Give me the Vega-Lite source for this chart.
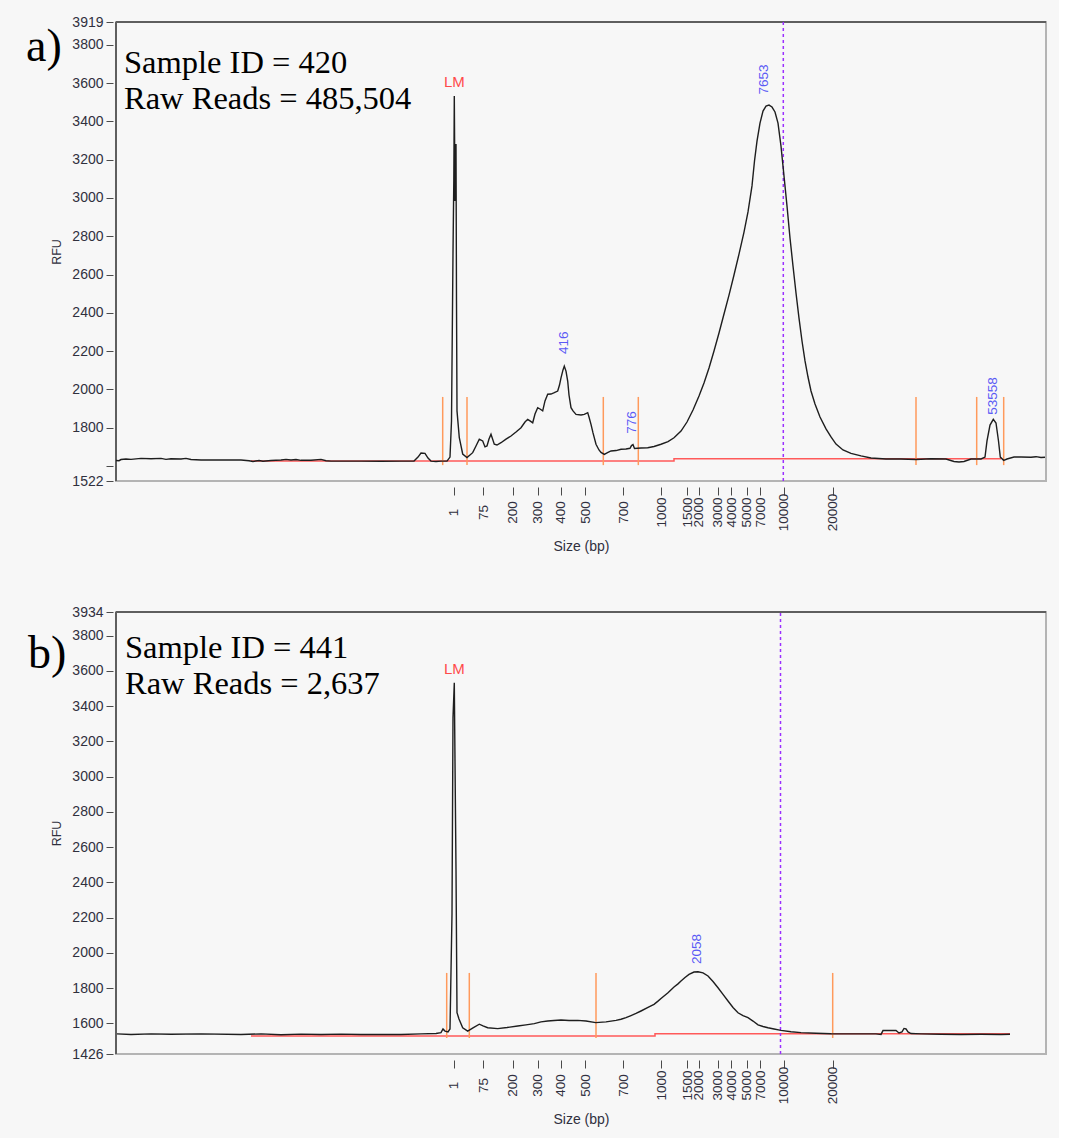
{
  "$schema": "https://vega.github.io/schema/vega-lite/v6.json",
  "background": "#f7f7f7",
  "padding": {"left": 25, "top": 14, "right": 10, "bottom": 10},
  "spacing": 131,
  "bounds": "flush",
  "config": {
    "view": {"stroke": "#b4b4b4", "strokeWidth": 2},
    "axis": {
      "grid": false,
      "domain": false,
      "labelFont": "Liberation Sans",
      "labelFontSize": 14,
      "labelColor": "#30303e",
      "tickColor": "#4a4a4a",
      "titleFont": "Liberation Sans",
      "titleFontWeight": "normal",
      "titleColor": "#30303e"
    }
  },
  "datasets": {
    "traceA": [
      {"t":0,"v":1629},{"t":0.3,"v":1628},{"t":0.5,"v":1634},{"t":1.0,"v":1637},{"t":1.5,"v":1635},{"t":2.5,"v":1640},{"t":3.5,"v":1638},{"t":4.5,"v":1640},{"t":5.0,"v":1635},{"t":5.5,"v":1638},{"t":6.5,"v":1637},{"t":7.0,"v":1640},{"t":7.5,"v":1634},{"t":8.5,"v":1632},{"t":10.5,"v":1632},{"t":12.5,"v":1632},{"t":13.3,"v":1628},{"t":13.7,"v":1624},{"t":14.3,"v":1629},{"t":14.7,"v":1625},{"t":15.5,"v":1629},{"t":16.5,"v":1632},{"t":17.0,"v":1635},{"t":17.5,"v":1632},{"t":18.0,"v":1634},{"t":18.5,"v":1630},{"t":19.5,"v":1630},{"t":20.5,"v":1635},{"t":21.0,"v":1628},{"t":21.5,"v":1626},{"t":24.5,"v":1626},{"t":26.5,"v":1625},{"t":28.5,"v":1626},{"t":29.8,"v":1626},{"t":30.2,"v":1647},{"t":30.5,"v":1668},{"t":30.9,"v":1666},{"t":31.2,"v":1642},{"t":31.5,"v":1626},{"t":32.0,"v":1624},{"t":32.5,"v":1626},{"t":33.1,"v":1626},{"t":33.4,"v":1647},{"t":33.55,"v":1835},{"t":33.7,"v":2713},{"t":33.78,"v":3089},{"t":33.83,"v":3532},{"t":33.9,"v":2984},{"t":34.0,"v":3282},{"t":34.05,"v":2462},{"t":34.1,"v":1888},{"t":34.33,"v":1748},{"t":34.67,"v":1663},{"t":35.1,"v":1644},{"t":35.67,"v":1670},{"t":36.0,"v":1705},{"t":36.33,"v":1740},{"t":36.67,"v":1731},{"t":36.9,"v":1700},{"t":37.1,"v":1705},{"t":37.3,"v":1741},{"t":37.5,"v":1766},{"t":37.83,"v":1714},{"t":38.1,"v":1710},{"t":38.5,"v":1722},{"t":39.0,"v":1741},{"t":39.5,"v":1757},{"t":40.0,"v":1778},{"t":40.5,"v":1800},{"t":40.9,"v":1830},{"t":41.17,"v":1844},{"t":41.4,"v":1836},{"t":41.67,"v":1826},{"t":41.9,"v":1872},{"t":42.17,"v":1905},{"t":42.4,"v":1898},{"t":42.67,"v":1888},{"t":42.9,"v":1940},{"t":43.17,"v":1975},{"t":43.5,"v":1976},{"t":43.83,"v":1983},{"t":44.17,"v":1992},{"t":44.35,"v":2023},{"t":44.5,"v":2061},{"t":44.7,"v":2102},{"t":44.83,"v":2122},{"t":45.0,"v":2096},{"t":45.17,"v":2044},{"t":45.3,"v":1971},{"t":45.5,"v":1905},{"t":45.7,"v":1888},{"t":46.0,"v":1870},{"t":46.5,"v":1867},{"t":46.83,"v":1870},{"t":47.17,"v":1879},{"t":47.3,"v":1856},{"t":47.5,"v":1818},{"t":47.7,"v":1773},{"t":48.0,"v":1714},{"t":48.3,"v":1684},{"t":48.5,"v":1671},{"t":48.83,"v":1661},{"t":49.2,"v":1671},{"t":49.5,"v":1679},{"t":50.0,"v":1681},{"t":50.5,"v":1688},{"t":51.0,"v":1689},{"t":51.4,"v":1693},{"t":51.55,"v":1707},{"t":51.7,"v":1712},{"t":51.85,"v":1692},{"t":52.5,"v":1694},{"t":53.17,"v":1696},{"t":53.8,"v":1702},{"t":54.5,"v":1714},{"t":55.2,"v":1728},{"t":55.8,"v":1748},{"t":56.5,"v":1783},{"t":57.1,"v":1830},{"t":57.7,"v":1893},{"t":58.3,"v":1966},{"t":58.8,"v":2034},{"t":59.3,"v":2112},{"t":59.8,"v":2201},{"t":60.3,"v":2295},{"t":60.8,"v":2394},{"t":61.3,"v":2493},{"t":61.8,"v":2598},{"t":62.3,"v":2707},{"t":62.8,"v":2822},{"t":63.2,"v":2927},{"t":63.6,"v":3063},{"t":63.85,"v":3193},{"t":64.1,"v":3297},{"t":64.4,"v":3391},{"t":64.7,"v":3454},{"t":65.0,"v":3480},{"t":65.3,"v":3485},{"t":65.6,"v":3475},{"t":65.9,"v":3449},{"t":66.2,"v":3391},{"t":66.5,"v":3271},{"t":66.8,"v":3115},{"t":67.1,"v":2958},{"t":67.4,"v":2791},{"t":67.7,"v":2645},{"t":68.0,"v":2504},{"t":68.3,"v":2373},{"t":68.6,"v":2253},{"t":68.9,"v":2149},{"t":69.2,"v":2065},{"t":69.5,"v":1992},{"t":69.9,"v":1924},{"t":70.4,"v":1856},{"t":71.0,"v":1794},{"t":71.5,"v":1752},{"t":72.0,"v":1715},{"t":72.7,"v":1684},{"t":73.5,"v":1666},{"t":74.5,"v":1653},{"t":75.5,"v":1642},{"t":77.0,"v":1637},{"t":78.5,"v":1637},{"t":80.0,"v":1634},{"t":81.5,"v":1638},{"t":83.0,"v":1637},{"t":83.8,"v":1624},{"t":84.3,"v":1621},{"t":84.8,"v":1624},{"t":85.5,"v":1637},{"t":86.5,"v":1637},{"t":86.9,"v":1647},{"t":87.1,"v":1731},{"t":87.4,"v":1814},{"t":87.73,"v":1844},{"t":88.0,"v":1825},{"t":88.25,"v":1731},{"t":88.43,"v":1647},{"t":88.77,"v":1630},{"t":89.1,"v":1637},{"t":89.8,"v":1647},{"t":90.5,"v":1647},{"t":91.5,"v":1646},{"t":92.0,"v":1649},{"t":92.5,"v":1645},{"t":92.9,"v":1646}
    ],
    "traceB": [
      {"t":0.1,"v":1540},{"t":1.5,"v":1537},{"t":3.5,"v":1540},{"t":5.5,"v":1538},{"t":8.5,"v":1540},{"t":12.5,"v":1537},{"t":14.5,"v":1540},{"t":16.5,"v":1535},{"t":18.5,"v":1539},{"t":20.5,"v":1537},{"t":22.5,"v":1539},{"t":24.5,"v":1537},{"t":28.5,"v":1537},{"t":30.5,"v":1540},{"t":32.0,"v":1542},{"t":32.5,"v":1547},{"t":32.7,"v":1568},{"t":32.9,"v":1556},{"t":33.2,"v":1551},{"t":33.4,"v":1568},{"t":33.6,"v":2220},{"t":33.7,"v":3334},{"t":33.83,"v":3533},{"t":33.9,"v":3088},{"t":34.0,"v":2476},{"t":34.1,"v":1660},{"t":34.3,"v":1625},{"t":34.67,"v":1575},{"t":35.17,"v":1556},{"t":35.7,"v":1574},{"t":36.33,"v":1595},{"t":36.7,"v":1585},{"t":37.17,"v":1575},{"t":38.17,"v":1570},{"t":39.1,"v":1576},{"t":40.17,"v":1585},{"t":41.0,"v":1591},{"t":41.83,"v":1598},{"t":42.5,"v":1608},{"t":43.17,"v":1613},{"t":43.8,"v":1616},{"t":44.5,"v":1619},{"t":45.3,"v":1616},{"t":46.17,"v":1617},{"t":47.0,"v":1613},{"t":47.97,"v":1604},{"t":49.0,"v":1608},{"t":50.0,"v":1617},{"t":50.5,"v":1623},{"t":51.0,"v":1632},{"t":51.5,"v":1644},{"t":52.0,"v":1656},{"t":52.5,"v":1670},{"t":53.2,"v":1690},{"t":53.8,"v":1708},{"t":54.2,"v":1726},{"t":54.5,"v":1741},{"t":55.2,"v":1774},{"t":55.8,"v":1806},{"t":56.2,"v":1824},{"t":56.5,"v":1840},{"t":56.9,"v":1860},{"t":57.3,"v":1878},{"t":57.8,"v":1891},{"t":58.2,"v":1893},{"t":58.7,"v":1886},{"t":59.2,"v":1869},{"t":59.7,"v":1837},{"t":60.2,"v":1802},{"t":60.7,"v":1764},{"t":61.2,"v":1727},{"t":61.7,"v":1690},{"t":62.2,"v":1660},{"t":62.7,"v":1644},{"t":63.2,"v":1632},{"t":63.7,"v":1613},{"t":64.2,"v":1591},{"t":64.7,"v":1582},{"t":65.2,"v":1575},{"t":65.8,"v":1568},{"t":66.5,"v":1560},{"t":67.5,"v":1552},{"t":68.5,"v":1547},{"t":70.0,"v":1544},{"t":71.5,"v":1541},{"t":73.0,"v":1540},{"t":74.5,"v":1540},{"t":76.0,"v":1540},{"t":76.5,"v":1537},{"t":76.7,"v":1559},{"t":77.5,"v":1560},{"t":78.0,"v":1559},{"t":78.3,"v":1545},{"t":78.6,"v":1551},{"t":78.8,"v":1571},{"t":79.0,"v":1568},{"t":79.2,"v":1551},{"t":79.5,"v":1542},{"t":80.5,"v":1540},{"t":82.5,"v":1538},{"t":84.5,"v":1537},{"t":86.5,"v":1538},{"t":88.5,"v":1537},{"t":89.4,"v":1538}
    ],
    "frameA": [{"t":0,"t2":0,"v":1522,"v2":3919},{"t":0,"t2":93,"v":3919,"v2":3919}],
    "frameB": [{"t":0,"t2":0,"v":1426,"v2":3934},{"t":0,"t2":93,"v":3934,"v2":3934}],
    "baseA": [{"t":13.5,"v":1626},{"t":55.8,"v":1638},{"t":88.5,"v":1638}],
    "baseB": [{"t":13.5,"v":1528},{"t":53.9,"v":1541},{"t":89.4,"v":1541}],
    "cutsA": [{"t":32.67,"v":1605,"v2":1961},{"t":35.1,"v":1605,"v2":1961},{"t":48.73,"v":1605,"v2":1961},{"t":52.23,"v":1605,"v2":1961},{"t":80.0,"v":1605,"v2":1961},{"t":86.07,"v":1605,"v2":1961},{"t":88.77,"v":1605,"v2":1961}],
    "cutsB": [{"t":33.07,"v":1517,"v2":1886},{"t":35.33,"v":1517,"v2":1886},{"t":48.0,"v":1517,"v2":1886},{"t":71.67,"v":1517,"v2":1886}],
    "markerA": [{"t":66.73,"v":1522,"v2":3919}],
    "markerB": [{"t":66.45,"v":1426,"v2":3934}],
    "peaksA": [{"t":44.83,"v":2244,"label":"416"},{"t":51.57,"v":1828,"label":"776"},{"t":64.83,"v":3619,"label":"7653"},{"t":87.73,"v":1966,"label":"53558"}],
    "peaksB": [{"t":58.1,"v":2022,"label":"2058"}],
    "lmA": [{"t":33.83,"v":3605,"label":"LM"}],
    "lmB": [{"t":33.83,"v":3610,"label":"LM"}],
    "infoA": [{"t":0.8,"v":3652,"label":"Sample ID = 420"},{"t":0.8,"v":3463,"label":"Raw Reads = 485,504"}],
    "infoB": [{"t":0.9,"v":3675,"label":"Sample ID = 441"},{"t":0.9,"v":3467,"label":"Raw Reads = 2,637"}],
    "letterA": [{"t":-9.0,"v":3715,"label":"a)"}],
    "letterB": [{"t":-8.8,"v":3618,"label":"b)"}]
  },
  "vconcat": [
    {
      "width": 930,
      "height": 459,
      "encoding": {
        "x": {
          "field": "t", "type": "quantitative",
          "scale": {"domain": [0, 93], "nice": false, "zero": false},
          "axis": {
            "title": "Size (bp)", "titleFontSize": 14, "titlePadding": 9,
            "values": [33.79,36.74,39.69,42.16,44.46,46.93,50.7,54.52,57.12,58.25,60.16,61.54,63.06,64.4,66.75,71.65],
            "labelExpr": "['1','75','200','300','400','500','700','1000','1500','2000','3000','4000','5000','7000','10000','20000'][indexof([33.79,36.74,39.69,42.16,44.46,46.93,50.7,54.52,57.12,58.25,60.16,61.54,63.06,64.4,66.75,71.65], datum.value)]",
            "labelFontSize": 13.5,
            "labelAngle": 270, "labelAlign": "center", "labelBaseline": "middle",
            "labelOverlap": false, "labelFlush": false, "labelBound": false,
            "offset": 6, "tickSize": 8, "labelPadding": 17
          }
        },
        "y": {
          "field": "v", "type": "quantitative",
          "scale": {"domain": [1522, 3919], "nice": false, "zero": false},
          "axis": {
            "title": "RFU", "titleFontSize": 12.5, "titlePadding": 8,
            "values": [1522,1600,1800,2000,2200,2400,2600,2800,3000,3200,3400,3600,3800,3919],
            "format": "d",
            "labelExpr": "datum.value == 1600 ? '' : datum.label",
            "labelOverlap": false, "labelFlush": false, "labelBound": false,
            "offset": 3, "tickSize": 7, "labelPadding": 3
          }
        }
      },
      "layer": [
        {"data": {"name": "frameA"}, "mark": {"type": "rule", "color": "#5f5f5f", "strokeWidth": 2}, "encoding": {"x2": {"field": "t2"}, "y2": {"field": "v2"}}},
        {"data": {"name": "baseA"}, "mark": {"type": "line", "color": "#ff5a5a", "strokeWidth": 1.5, "interpolate": "step-after"}},
        {"data": {"name": "cutsA"}, "mark": {"type": "rule", "color": "#ff9a5c", "strokeWidth": 1.5}, "encoding": {"y2": {"field": "v2"}}},
        {"data": {"name": "markerA"}, "mark": {"type": "rule", "color": "#9b30ff", "strokeWidth": 1.5, "strokeDash": [3, 3]}, "encoding": {"y2": {"field": "v2"}}},
        {"data": {"name": "traceA"}, "mark": {"type": "line", "color": "#1e1e1e", "strokeWidth": 1.4}},
        {"data": {"name": "peaksA"}, "mark": {"type": "text", "angle": 270, "align": "center", "baseline": "middle", "font": "Liberation Sans", "fontSize": 13.5, "color": "#5a5af5"}, "encoding": {"text": {"field": "label"}}},
        {"data": {"name": "lmA"}, "mark": {"type": "text", "align": "center", "baseline": "middle", "font": "Liberation Sans", "fontSize": 15, "color": "#ff4a4a"}, "encoding": {"text": {"field": "label"}}},
        {"data": {"name": "infoA"}, "mark": {"type": "text", "align": "left", "baseline": "alphabetic", "font": "Liberation Serif", "fontSize": 32.5, "color": "#000000"}, "encoding": {"text": {"field": "label"}}},
        {"data": {"name": "letterA"}, "mark": {"type": "text", "align": "left", "baseline": "alphabetic", "font": "Liberation Serif", "fontSize": 46, "color": "#000000"}, "encoding": {"text": {"field": "label"}}}
      ]
    },
    {
      "width": 930,
      "height": 442,
      "encoding": {
        "x": {
          "field": "t", "type": "quantitative",
          "scale": {"domain": [0, 93], "nice": false, "zero": false},
          "axis": {
            "title": "Size (bp)", "titleFontSize": 14, "titlePadding": 9,
            "values": [33.79,36.74,39.69,42.16,44.46,46.93,50.7,54.52,57.12,58.25,60.16,61.54,63.06,64.4,66.75,71.65],
            "labelExpr": "['1','75','200','300','400','500','700','1000','1500','2000','3000','4000','5000','7000','10000','20000'][indexof([33.79,36.74,39.69,42.16,44.46,46.93,50.7,54.52,57.12,58.25,60.16,61.54,63.06,64.4,66.75,71.65], datum.value)]",
            "labelFontSize": 13.5,
            "labelAngle": 270, "labelAlign": "center", "labelBaseline": "middle",
            "labelOverlap": false, "labelFlush": false, "labelBound": false,
            "offset": 6, "tickSize": 8, "labelPadding": 17
          }
        },
        "y": {
          "field": "v", "type": "quantitative",
          "scale": {"domain": [1426, 3934], "nice": false, "zero": false},
          "axis": {
            "title": "RFU", "titleFontSize": 12.5, "titlePadding": 8,
            "values": [1426,1600,1800,2000,2200,2400,2600,2800,3000,3200,3400,3600,3800,3934],
            "format": "d",
            "labelOverlap": false, "labelFlush": false, "labelBound": false,
            "offset": 3, "tickSize": 7, "labelPadding": 3
          }
        }
      },
      "layer": [
        {"data": {"name": "frameB"}, "mark": {"type": "rule", "color": "#5f5f5f", "strokeWidth": 2}, "encoding": {"x2": {"field": "t2"}, "y2": {"field": "v2"}}},
        {"data": {"name": "baseB"}, "mark": {"type": "line", "color": "#ff5a5a", "strokeWidth": 1.5, "interpolate": "step-after"}},
        {"data": {"name": "cutsB"}, "mark": {"type": "rule", "color": "#ff9a5c", "strokeWidth": 1.5}, "encoding": {"y2": {"field": "v2"}}},
        {"data": {"name": "markerB"}, "mark": {"type": "rule", "color": "#9b30ff", "strokeWidth": 1.5, "strokeDash": [3, 3]}, "encoding": {"y2": {"field": "v2"}}},
        {"data": {"name": "traceB"}, "mark": {"type": "line", "color": "#1e1e1e", "strokeWidth": 1.4}},
        {"data": {"name": "peaksB"}, "mark": {"type": "text", "angle": 270, "align": "center", "baseline": "middle", "font": "Liberation Sans", "fontSize": 13.5, "color": "#5a5af5"}, "encoding": {"text": {"field": "label"}}},
        {"data": {"name": "lmB"}, "mark": {"type": "text", "align": "center", "baseline": "middle", "font": "Liberation Sans", "fontSize": 15, "color": "#ff4a4a"}, "encoding": {"text": {"field": "label"}}},
        {"data": {"name": "infoB"}, "mark": {"type": "text", "align": "left", "baseline": "alphabetic", "font": "Liberation Serif", "fontSize": 32.5, "color": "#000000"}, "encoding": {"text": {"field": "label"}}},
        {"data": {"name": "letterB"}, "mark": {"type": "text", "align": "left", "baseline": "alphabetic", "font": "Liberation Serif", "fontSize": 46, "color": "#000000"}, "encoding": {"text": {"field": "label"}}}
      ]
    }
  ]
}
